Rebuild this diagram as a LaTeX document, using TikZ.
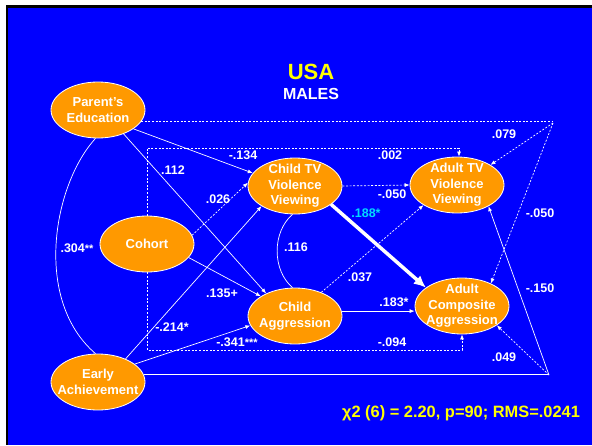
\documentclass[tikz,border=0pt]{standalone}
\usepackage{fontspec}
\setmainfont{Liberation Sans}
\usetikzlibrary{shapes.geometric,arrows.meta}
\definecolor{slideblue}{RGB}{0,0,255}
\definecolor{boxorange}{RGB}{255,153,0}
\definecolor{titleyellow}{RGB}{255,255,0}
\definecolor{keycyan}{RGB}{0,220,255}
\newcommand{\stars}[1]{{\fontsize{11}{11}\selectfont#1}}

\begin{document}
\begin{tikzpicture}[x=1pt,y=-1pt,
  var/.style={ellipse,draw=white,line width=0.8pt,fill=boxorange,text=white,
    minimum width=94pt,minimum height=56pt,inner xsep=-12pt,inner ysep=-6pt,
    align=center,font=\fontsize{13}{15.5}\selectfont\bfseries},
  coef/.style={text=white,inner sep=0pt,font=\fontsize{12.5}{14}\selectfont\bfseries},
  line/.style={draw=white,line width=0.7pt},
  dotline/.style={line,dash pattern=on 2pt off 1.6pt},
  path/.style={line,-{Latex[length=5pt,width=4pt]}},
  dotpath/.style={dotline,-{Latex[length=5pt,width=4pt]}}]
\useasboundingbox (0,0) rectangle (592,445);
\fill[white] (0,0) rectangle (592,445);
\fill[black] (5.5,4.5) rectangle (592,445);
\fill[slideblue] (8.3,7.5) rectangle (592,445);

% title
\node[text=titleyellow,font=\fontsize{22}{24}\selectfont\bfseries] (title) at (311,72) {USA};
\node[text=white,font=\fontsize{16}{18}\selectfont\bfseries] (sub) at (311,94) {MALES};

% variables
\node[var] (pe) at (98,110) {Parent's\\Education};
\node[var] (co) at (147,244) {Cohort};
\node[var] (ea) at (98,382) {Early\\Achievement};
\node[var] (ctv) at (295,186) {Child TV\\Violence\\Viewing};
\node[var] (cag) at (295,316) {Child\\Aggression};
\node[var] (atv) at (457,185) {Adult TV\\Violence\\Viewing};
\node[var] (aca) at (462,306) {Adult\\Composite\\Aggression};

\coordinate (tr) at (553,123);
\coordinate (br) at (549,375);
\coordinate (ftop) at (459,148);
\coordinate (fbot) at (462,350);

% correlations
\draw[line] (pe.-95) .. controls (53,185) and (33,300) .. (ea.95);
\draw[line] (ctv.-95) .. controls (272,232) and (272,270) .. (cag.95);

% paths
\draw[path] (pe.-28) -- (ctv.163);
\draw[path] (pe.-43) -- (cag.142);
\draw[path] (co.-18) -- (cag.150);
\draw[path] (ea.40) -- (ctv.211);
\draw[path] (ea.26) -- (cag.192);
\draw[path] (cag.6) -- (cag.6 -| aca.west);
\draw[line] (ea.9) -- (ea.9 -| br);
\draw[path] (br) -- (atv.-34);
\draw[white,line width=3.5pt,-{Latex[length=12pt,width=11pt]}] (ctv.-27) -- (aca.153);

\draw[dotpath] (co.11) -- (ctv.176);
\draw[dotpath] (ctv.east) -- (atv.west);
\draw[dotpath] (cag.42) -- (atv.211);
\draw[dotline] (pe.-15) -- (pe.-15 -| tr);
\draw[dotpath] (tr) -- (atv.31);
\draw[dotpath] (tr) -- (aca.38);
\draw[dotpath] (br) -- (aca.-29);
\draw[dotpath] (co.north) |- (ftop) -- (ftop |- atv.north);
\draw[dotpath] (co.south) |- (fbot) -- (fbot |- aca.south);

% coefficients
\node[coef] (k1) at (243,155) {-.134};
\node[coef] (k2) at (173,170) {.112};
\node[coef] (k3) at (218,199) {.026};
\node[coef] (k4) at (77,248) {.304\stars{**}};
\node[coef] (k5) at (222,293) {.135+};
\node[coef] (k6) at (172,327) {-.214*};
\node[coef] (k7) at (237,342) {-.341\stars{***}};
\node[coef] (k8) at (296,247) {.116};
\node[coef] (k9) at (390,155) {.002};
\node[coef] (k10) at (392,194) {-.050};
\node[coef,text=keycyan] (k11) at (366,213) {.188*};
\node[coef] (k12) at (360,277) {.037};
\node[coef] (k13) at (394,302) {.183*};
\node[coef] (k14) at (392,342) {-.094};
\node[coef] (k15) at (504,134) {.079};
\node[coef] (k16) at (540,213) {-.050};
\node[coef] (k17) at (540,288) {-.150};
\node[coef] (k18) at (504,357) {.049};

% fit
\node[text=titleyellow,font=\fontsize{16.4}{18}\selectfont\bfseries] (fit) at (461,413) {χ2 (6) = 2.20, p=90; RMS=.0241};
\end{tikzpicture}
\end{document}
